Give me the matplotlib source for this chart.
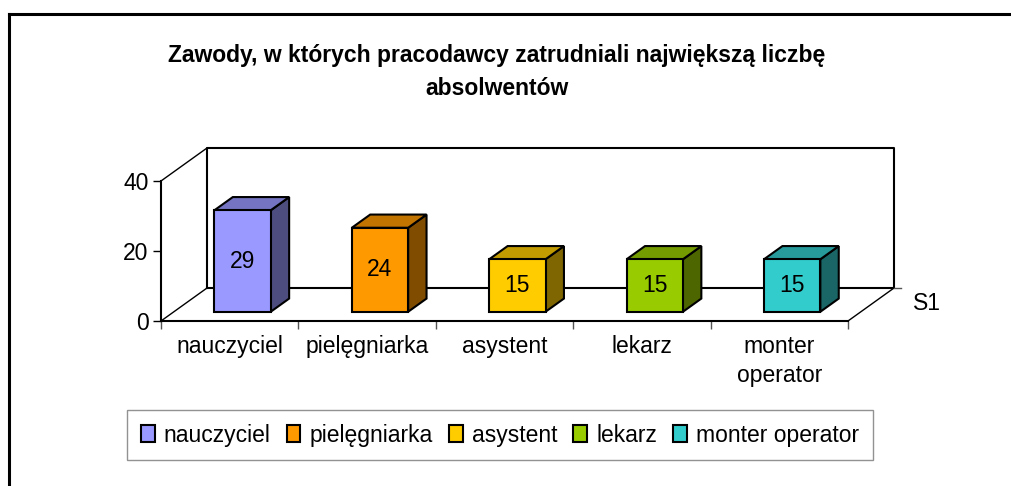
import matplotlib
matplotlib.use('Agg')
import matplotlib.pyplot as plt
from matplotlib.patches import Polygon, Patch
from matplotlib.lines import Line2D
from matplotlib.colors import to_rgb

plt.rcParams['font.family'] = ['Liberation Sans', 'DejaVu Sans']

# ---- data ----
categories = ['nauczyciel', 'pielęgniarka', 'asystent', 'lekarz', 'monter operator']
tick_labels = ['nauczyciel', 'pielęgniarka', 'asystent', 'lekarz', 'monter\noperator']
values = [29, 24, 15, 15, 15]
colors = ['#9999FF', '#FF9900', '#FFCC00', '#99CC00', '#33CCCC']
y_ticks = [0, 20, 40]
series_name = 'S1'
title = 'Zawody, w których pracodawcy zatrudniali największą liczbę\nabsolwentów'

FS = 16.5

W, H = 1012, 486
fig = plt.figure(figsize=(W / 100, H / 100), dpi=100)

# front plane of the 3D box (pixels)
px0, px1 = 161, 848
py_bot, py_top = 321, 181
ax = fig.add_axes([px0 / W, 1 - py_bot / H, (px1 - px0) / W, (py_bot - py_top) / H])
n = len(categories)
ymax = max(y_ticks)
ax.set_xlim(0, n)
ax.set_ylim(0, ymax)

# depth offset (oblique projection) in data units
DX = 46 / ((px1 - px0) / n)
DY = 33 / ((py_bot - py_top) / ymax)


def proj(x, v, d):
    return (x + d * DX, v + d * DY)


LW = 1.5
kw = dict(color='black', clip_on=False, solid_capstyle='projecting')

# back wall
bw_pts = [proj(0, 0, 1), proj(n, 0, 1), proj(n, ymax, 1), proj(0, ymax, 1), proj(0, 0, 1)]
ax.plot([p[0] for p in bw_pts], [p[1] for p in bw_pts], lw=LW, zorder=1, **kw)
# side wall / floor diagonals
for (xa, va) in [(0, 0), (0, ymax), (n, 0)]:
    p0 = proj(xa, va, 0)
    p1 = proj(xa, va, 1)
    ax.plot([p0[0], p1[0]], [p0[1], p1[1]], lw=1.0, zorder=1, **kw)
# depth-axis tick at back-right corner
pc = proj(n, 0, 1)
ax.plot([pc[0], pc[0] + 0.05], [pc[1], pc[1]], lw=1.0, zorder=1, color='#555555', clip_on=False)
ax.annotate(series_name, xy=pc, xytext=(14, -11), textcoords='offset points',
            fontsize=FS, ha='left', va='center', annotation_clip=False)

# bars
bar_w = 0.41
d0, d1 = 0.28, 0.68


def shade(c, f):
    r, g, b = to_rgb(c)
    return (r * f, g * f, b * f)


for i, (v, c) in enumerate(zip(values, colors)):
    xl, xr = i + 0.5 - bar_w / 2, i + 0.5 + bar_w / 2
    front = [proj(xl, 0, d0), proj(xr, 0, d0), proj(xr, v, d0), proj(xl, v, d0)]
    top = [proj(xl, v, d0), proj(xr, v, d0), proj(xr, v, d1), proj(xl, v, d1)]
    side = [proj(xr, 0, d0), proj(xr, 0, d1), proj(xr, v, d1), proj(xr, v, d0)]
    for pts, col in [(side, shade(c, 0.5)), (top, shade(c, 0.76)), (front, c)]:
        ax.add_patch(Polygon(pts, closed=True, facecolor=col, edgecolor='black',
                             lw=LW, joinstyle='miter', clip_on=False, zorder=3))
    cx, cy = proj(i + 0.5, v / 2, d0)
    ax.text(cx, cy, str(v), ha='center', va='center', fontsize=FS, zorder=4)

# axes: spines and ticks
for s in ['top', 'right']:
    ax.spines[s].set_visible(False)
for s in ['left', 'bottom']:
    ax.spines[s].set_linewidth(LW)
    ax.spines[s].set_zorder(2)
ax.patch.set_alpha(0)
ax.set_yticks(y_ticks)
ax.set_yticklabels([str(t) for t in y_ticks], fontsize=FS)
ax.tick_params(axis='y', length=6, width=1, direction='out', pad=3)
ax.set_xticks([i + 0.5 for i in range(n)])
ax.set_xticklabels(tick_labels, fontsize=FS)
ax.set_xticks(range(n + 1), minor=True)
ax.tick_params(axis='x', which='major', length=0, pad=10)
ax.tick_params(axis='x', which='minor', length=6, width=1, direction='out', color='#555555')
for t in ax.get_xticklabels():
    t.set_linespacing(1.35)

# title
fig.text(497 / W, 1 - 72 / H, title, ha='center', va='center', fontsize=16.5,
         fontweight='bold', linespacing=1.55)

# legend
handles = [Patch(facecolor=c, edgecolor='black', lw=1.5, label=l) for c, l in zip(colors, categories)]
leg = fig.legend(handles=handles, loc='center', bbox_to_anchor=(500 / W, 1 - 435 / H),
                 ncol=n, fontsize=FS, frameon=True, fancybox=False, edgecolor='#777777',
                 handlelength=0.6, handleheight=0.7, handletextpad=0.4, columnspacing=0.7,
                 borderpad=0.6, borderaxespad=0)
leg.get_frame().set_linewidth(1.0)

# outer chart border (extends beyond the image at right/bottom)
fig.add_artist(Line2D([8.5 / W, 8.5 / W], [-0.1, 1 - 14 / H], transform=fig.transFigure,
                      color='black', lw=2.2, solid_capstyle='projecting'))
fig.add_artist(Line2D([8.5 / W, 1.1], [1 - 14 / H, 1 - 14 / H], transform=fig.transFigure,
                      color='black', lw=2.2, solid_capstyle='projecting'))

fig.savefig('out.png', dpi=100, facecolor='white')
